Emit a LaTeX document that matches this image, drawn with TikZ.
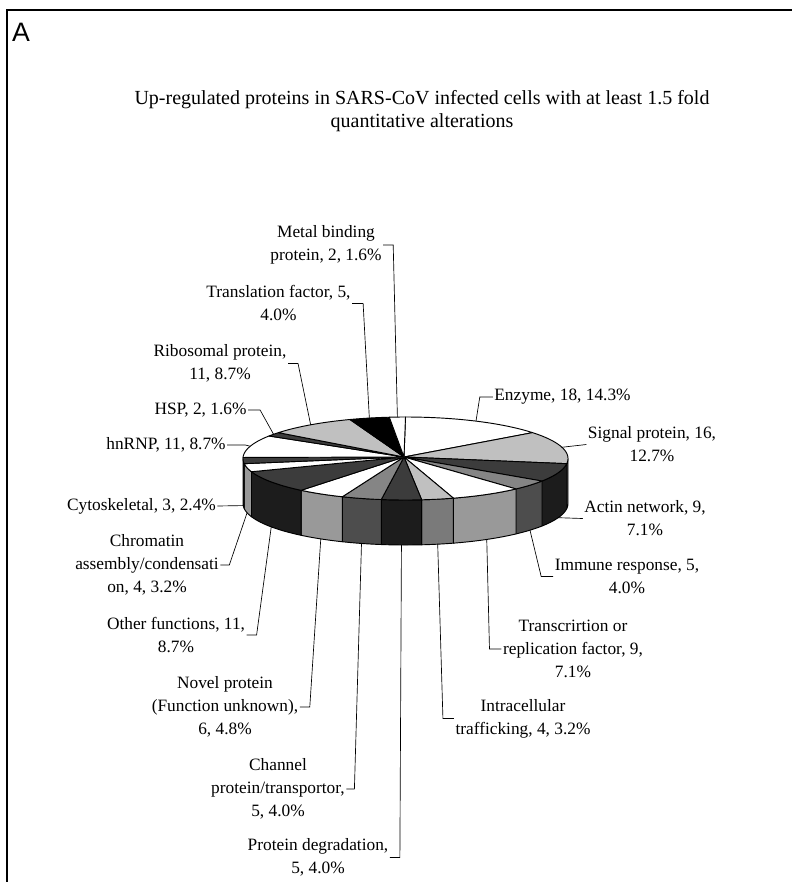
\documentclass[tikz,border=0pt]{standalone}
\usepackage{fontspec}
\setmainfont{Liberation Serif}
\newfontfamily\panelfont{Liberation Sans}
\usetikzlibrary{calc}
\definecolor{Wtop}{HTML}{FFFFFF}
\definecolor{Wside}{HTML}{999999}
\definecolor{Ltop}{HTML}{C0C0C0}
\definecolor{Lside}{HTML}{7A7A7A}
\definecolor{Dtop}{HTML}{3C3C3C}
\definecolor{Dside}{HTML}{1C1C1C}
\definecolor{Mtop}{HTML}{858585}
\definecolor{Mside}{HTML}{4D4D4D}
\definecolor{Ktop}{HTML}{000000}
\definecolor{Kside}{HTML}{000000}
\begin{document}
\begin{tikzpicture}[x=0.75pt,y=-0.75pt,
  lab/.style={align=center,inner sep=1pt,font=\fontsize{13}{17.25}\selectfont},
  lead/.style={line width=0.5pt},
  edge/.style={line width=0.7pt,line join=round}]
\useasboundingbox (0,0) rectangle (792,882);
\fill[white] (0,0) rectangle (792,882);
\draw[line width=1.6pt] (7,882) -- (7,10) -- (792,10);

% side faces
\foreach \a/\b/\col in {0/18/W,18/34/L,34/43/D,43/48/M,48/57/W,57/61/L,61/66/D,66/71/M,71/77/W,77/88/D,88/92/W,92/95/D,95/106/W,106/108/D,108/119/L,119/124/K,124/126/W}{
  \pgfmathsetmacro\sa{90-\a/126*360}
  \pgfmathsetmacro\ea{90-\b/126*360}
  \pgfmathsetmacro\lo{max(\ea,-180)}
  \pgfmathsetmacro\hi{min(\sa,0)}
  \pgfmathsetmacro\sm{\lo+\hi}
  \ifdim\lo pt<\hi pt
    \filldraw[fill=\col side,edge] plot[domain=\lo:\hi,samples=30,variable=\t] ({405.5+162.5*cos(\t)},{458.5-41.5*sin(\t)}) -- plot[domain=\lo:\hi,samples=30,variable=\t] ({405.5+162.5*cos(\sm-\t)},{503.5-41.5*sin(\sm-\t)}) -- cycle;
  \fi
}
% top faces
\foreach \a/\b/\col in {0/18/W,18/34/L,34/43/D,43/48/M,48/57/W,57/61/L,61/66/D,66/71/M,71/77/W,77/88/D,88/92/W,92/95/D,95/106/W,106/108/D,108/119/L,119/124/K,124/126/W}{
  \pgfmathsetmacro\sa{90-\a/126*360}
  \pgfmathsetmacro\ea{90-\b/126*360}
  \filldraw[fill=\col top,edge] (404,457) -- plot[domain=\ea:\sa,samples=30,variable=\t] ({405.5+162.5*cos(\t)},{458.5-41.5*sin(\t)}) -- cycle;
}

% title and panel letter
\node[font=\panelfont\fontsize{20}{20}\selectfont,inner sep=0pt] (panel) at (21,32) {A};
\node[align=center,inner sep=1pt,font=\fontsize{15}{17.25}\selectfont] (title) at (422,111) {Up-regulated proteins in SARS-CoV infected cells with at least 1.5 fold\\quantitative alterations};

% labels
\node[lab] (metal) at (326,245) {Metal binding\\protein, 2, 1.6\%};
\node[lab] (transl) at (278.5,303.5) {Translation factor, 5,\\4.0\%};
\node[lab] (ribo) at (220,363.5) {Ribosomal protein,\\11, 8.7\%};
\node[lab] (hsp) at (200.5,410) {HSP, 2, 1.6\%};
\node[lab] (hnrnp) at (166,445) {hnRNP, 11, 8.7\%};
\node[lab] (cyto) at (141.5,506) {Cytoskeletal, 3, 2.4\%};
\node[lab] (chrom) at (147,565) {Chromatin\\assembly/condensati\\on, 4, 3.2\%};
\node[lab] (other) at (176,635) {Other functions, 11,\\8.7\%};
\node[lab] (novel) at (225,707) {Novel protein\\(Function unknown),\\6, 4.8\%};
\node[lab] (chan) at (278,789) {Channel\\protein/transportor,\\5, 4.0\%};
\node[lab] (degr) at (318,857.5) {Protein degradation,\\5, 4.0\%};
\node[lab] (intra) at (523,718.5) {Intracellular\\trafficking, 4, 3.2\%};
\node[lab] (trans) at (573,649) {Transcrirtion or\\replication factor, 9,\\7.1\%};
\node[lab] (imm) at (627,576.5) {Immune response, 5,\\4.0\%};
\node[lab] (actin) at (645,518.5) {Actin network, 9,\\7.1\%};
\node[lab] (signal) at (652,444.5) {Signal protein, 16,\\12.7\%};
\node[lab] (enz) at (562.5,397) {Enzyme, 18, 14.3\%};

% anchor points on the pie
\coordinate (pmetal) at ({405.5+162.5*cos(92.86)},{458.5-41.5*sin(92.86)});
\coordinate (ptransl) at ({405.5+162.5*cos(102.86)},{458.5-41.5*sin(102.86)});
\coordinate (pribo) at ({405.5+162.5*cos(125.71)},{458.5-41.5*sin(125.71)});
\coordinate (phsp) at ({405.5+162.5*cos(144.29)},{458.5-41.5*sin(144.29)});
\coordinate (phnrnp) at ({405.5+162.5*cos(162.86)},{458.5-41.5*sin(162.86)});
\coordinate (pcyto) at ({405.5+162.5*cos(-177.14)},{503.5-41.5*sin(-177.14)});
\coordinate (pchrom) at ({405.5+162.5*cos(-167.14)},{503.5-41.5*sin(-167.14)});
\coordinate (pother) at ({405.5+162.5*cos(-145.71)},{503.5-41.5*sin(-145.71)});
\coordinate (pnovel) at ({405.5+162.5*cos(-121.43)},{503.5-41.5*sin(-121.43)});
\coordinate (pchan) at ({405.5+162.5*cos(-105.71)},{503.5-41.5*sin(-105.71)});
\coordinate (pdegr) at ({405.5+162.5*cos(-91.43)},{503.5-41.5*sin(-91.43)});
\coordinate (pintra) at ({405.5+162.5*cos(-78.57)},{503.5-41.5*sin(-78.57)});
\coordinate (ptrans) at ({405.5+162.5*cos(-60)},{503.5-41.5*sin(-60)});
\coordinate (pimm) at ({405.5+162.5*cos(-40)},{503.5-41.5*sin(-40)});
\coordinate (pactin) at ({405.5+162.5*cos(-20)},{503.5-41.5*sin(-20)});
\coordinate (psignal) at ({405.5+162.5*cos(15.71)},{458.5-41.5*sin(15.71)});
\coordinate (penz) at ({405.5+162.5*cos(64.29)},{458.5-41.5*sin(64.29)});

% leader lines
\draw[lead] (metal.east) -- ++(10,0) -- (pmetal);
\draw[lead] (transl.east) -- ++(11,0) -- (ptransl);
\draw[lead] (ribo.east) -- ++(10,0) -- (pribo);
\draw[lead] (hsp.east) -- ++(12,0) -- (phsp);
\draw[lead] (hnrnp.east) -- ++(18,0) -- (phnrnp);
\draw[lead] (cyto.east) -- (pcyto);
\draw[lead] (chrom.east) -- ++(9,0) -- (pchrom);
\draw[lead] (other.east) -- ++(10,0) -- (pother);
\draw[lead] (novel.east) -- ++(10,0) -- (pnovel);
\draw[lead] (chan.east) -- ++(8,0) -- (pchan);
\draw[lead] (degr.east) -- ++(10,0) -- (pdegr);
\draw[lead] (intra.west) -- ++(-11,0) -- (pintra);
\draw[lead] (trans.west) -- ++(-12,0) -- (ptrans);
\draw[lead] (imm.west) -- ++(-12,0) -- (pimm);
\draw[lead] (actin.west) -- (pactin);
\draw[lead] (signal.west) -- (psignal);
\draw[lead] (enz.west) -- ++(-13,0) -- (penz);
\end{tikzpicture}
\end{document}
